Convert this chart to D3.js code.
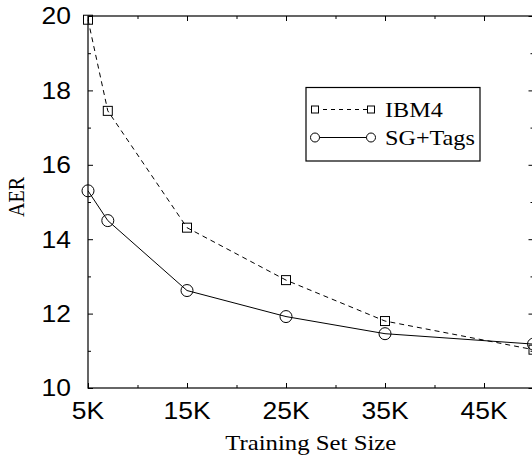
<!DOCTYPE html>
<html>
<head>
<meta charset="utf-8">
<script src="https://cdn.jsdelivr.net/npm/d3@7"></script>
<style>
  body { margin: 0; background: #fff; }
  svg { display: block; }
</style>
</head>
<body>
<div id="chart"></div>
<script>
// data
const sizes = [5000, 7000, 15000, 25000, 35000, 50000];
const ibm4 = [19.9, 17.45, 14.31, 12.9, 11.8, 11.03];
const sgTags = [15.3, 14.5, 12.62, 11.92, 11.46, 11.18];
const seriesNames = ["IBM4", "SG+Tags"];
const xTickValues = [5000, 15000, 25000, 35000, 45000];
const xTickLabels = ["5K", "15K", "25K", "35K", "45K"];
const xMinorValues = [10000, 20000, 30000, 40000];
const yTickValues = [10, 12, 14, 16, 18, 20];
const yMinorValues = [11, 13, 15, 17, 19];

const width = 532, height = 462;
const plot = { left: 88, right: 533.5, top: 16, bottom: 388 };
const sansStretch = 1.15, serifStretch = 1.18;

const svg = d3.select("#chart").append("svg")
    .attr("width", width)
    .attr("height", height);

const x = d3.scaleLinear().domain([5000, 50000]).range([plot.left, plot.right]);
const y = d3.scaleLinear().domain([10, 20]).range([plot.bottom, plot.top]);

// frame
svg.append("rect")
    .attr("x", plot.left).attr("y", plot.top)
    .attr("width", plot.right - plot.left).attr("height", plot.bottom - plot.top)
    .attr("fill", "none").attr("stroke", "#000").attr("stroke-width", 1.2);

// ticks, all pointing inward
const axisStyle = g => {
    g.select(".domain").remove();
    g.selectAll("line").attr("stroke", "#000").attr("stroke-width", 1);
};
svg.append("g").attr("transform", `translate(${plot.left},0)`)
    .call(d3.axisLeft(y).tickValues(yTickValues).tickSize(-5).tickFormat(""))
    .call(axisStyle);
svg.append("g").attr("transform", `translate(${plot.left},0)`)
    .call(d3.axisLeft(y).tickValues(yMinorValues).tickSize(-3).tickFormat(""))
    .call(axisStyle);
svg.append("g").attr("transform", `translate(${plot.right},0)`)
    .call(d3.axisRight(y).tickValues(yTickValues).tickSize(-5).tickFormat(""))
    .call(axisStyle);
svg.append("g").attr("transform", `translate(${plot.right},0)`)
    .call(d3.axisRight(y).tickValues(yMinorValues).tickSize(-3).tickFormat(""))
    .call(axisStyle);
svg.append("g").attr("transform", `translate(0,${plot.bottom})`)
    .call(d3.axisBottom(x).tickValues(xTickValues).tickSize(-5).tickFormat(""))
    .call(axisStyle);
svg.append("g").attr("transform", `translate(0,${plot.bottom})`)
    .call(d3.axisBottom(x).tickValues(xMinorValues).tickSize(-3).tickFormat(""))
    .call(axisStyle);
svg.append("g").attr("transform", `translate(0,${plot.top})`)
    .call(d3.axisTop(x).tickValues(xTickValues).tickSize(-5).tickFormat(""))
    .call(axisStyle);
svg.append("g").attr("transform", `translate(0,${plot.top})`)
    .call(d3.axisTop(x).tickValues(xMinorValues).tickSize(-3).tickFormat(""))
    .call(axisStyle);

// tick labels
svg.append("g").selectAll("text")
    .data(yTickValues)
    .join("text")
    .attr("transform", d => `translate(${plot.left - 17},${y(d) + 8.3}) scale(${sansStretch},1)`)
    .attr("text-anchor", "end")
    .attr("font-family", "Liberation Sans, Arial, sans-serif")
    .attr("font-size", 23)
    .text(d => d);

svg.append("g").selectAll("text")
    .data(xTickValues)
    .join("text")
    .attr("transform", d => `translate(${x(d)},418.5) scale(${sansStretch},1)`)
    .attr("text-anchor", "middle")
    .attr("font-family", "Liberation Sans, Arial, sans-serif")
    .attr("font-size", 23)
    .text((d, i) => xTickLabels[i]);

// axis titles
svg.append("text")
    .attr("transform", `translate(${(plot.left + plot.right) / 2},450) scale(${serifStretch},1)`)
    .attr("text-anchor", "middle")
    .attr("font-family", "Liberation Serif, Times New Roman, serif")
    .attr("font-size", 21)
    .text("Training Set Size");

svg.append("text")
    .attr("transform", `translate(24,197) scale(${serifStretch},1) rotate(-90)`)
    .attr("text-anchor", "middle")
    .attr("font-family", "Liberation Serif, Times New Roman, serif")
    .attr("font-size", 20)
    .text("AER");

// lines
const line = d3.line().x(d => x(d[0])).y(d => y(d[1]));
const ibmPts = sizes.map((s, i) => [s, ibm4[i]]);
const sgPts = sizes.map((s, i) => [s, sgTags[i]]);

svg.append("path")
    .attr("d", line(ibmPts))
    .attr("fill", "none").attr("stroke", "#000").attr("stroke-width", 1)
    .attr("stroke-dasharray", "5,4");
svg.append("path")
    .attr("d", line(sgPts))
    .attr("fill", "none").attr("stroke", "#000").attr("stroke-width", 1);

svg.append("g").selectAll("rect")
    .data(ibmPts)
    .join("rect")
    .attr("x", d => x(d[0]) - 4.5).attr("y", d => y(d[1]) - 4.5)
    .attr("width", 9).attr("height", 9)
    .attr("fill", "none").attr("stroke", "#000").attr("stroke-width", 1);
svg.append("g").selectAll("circle")
    .data(sgPts)
    .join("circle")
    .attr("cx", d => x(d[0])).attr("cy", d => y(d[1]))
    .attr("r", 6)
    .attr("fill", "none").attr("stroke", "#000").attr("stroke-width", 1);

// legend
const legend = svg.append("g");
legend.append("rect")
    .attr("x", 306).attr("y", 87.5)
    .attr("width", 174).attr("height", 73.5)
    .attr("fill", "#fff").attr("stroke", "#000").attr("stroke-width", 1.2);

const rows = [
    { name: seriesNames[0], yy: 109.5, dash: "4,4", mark: "square" },
    { name: seriesNames[1], yy: 137.5, dash: null, mark: "circle" }
];
rows.forEach(r => {
    legend.append("line")
        .attr("x1", 315).attr("x2", 371)
        .attr("y1", r.yy).attr("y2", r.yy)
        .attr("stroke", "#000").attr("stroke-width", 1)
        .attr("stroke-dasharray", r.dash);
    [315, 371].forEach(cx => {
        if (r.mark === "square") {
            legend.append("rect")
                .attr("x", cx - 3.5).attr("y", r.yy - 3.5)
                .attr("width", 7).attr("height", 7)
                .attr("fill", "#fff").attr("stroke", "#000").attr("stroke-width", 1);
        } else {
            legend.append("circle")
                .attr("cx", cx).attr("cy", r.yy).attr("r", 4.5)
                .attr("fill", "#fff").attr("stroke", "#000").attr("stroke-width", 1);
        }
    });
    legend.append("text")
        .attr("transform", `translate(385,${r.yy + 7.5}) scale(${serifStretch},1)`)
        .attr("font-family", "Liberation Serif, Times New Roman, serif")
        .attr("font-size", 20.5)
        .text(r.name);
});
</script>
</body>
</html>
